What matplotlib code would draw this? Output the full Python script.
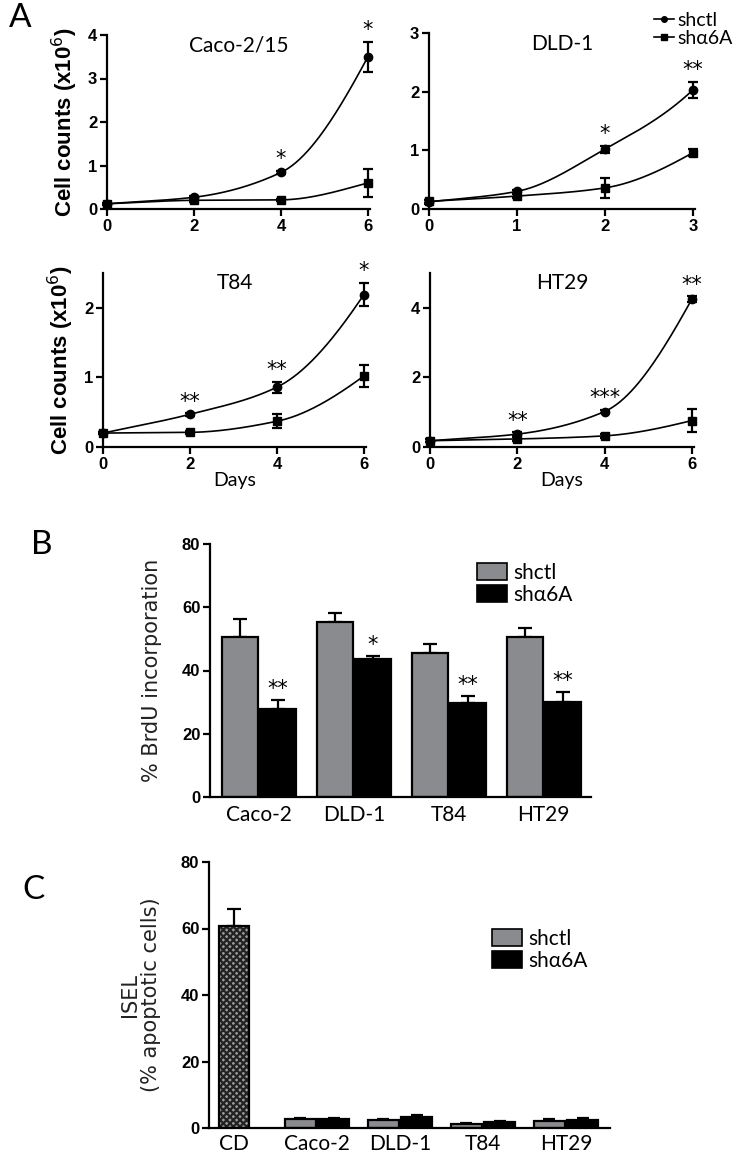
import numpy as np
import matplotlib
matplotlib.use('Agg')
import matplotlib.pyplot as plt
from matplotlib.lines import Line2D
from matplotlib.patches import Patch

# panel A: cell counts (x10^6)
days_caco = [0, 2, 4, 6]
caco_ctl = [0.12, 0.27, 0.84, 3.50]
caco_ctl_err = [0.02, 0.03, 0.04, 0.35]
caco_kd = [0.12, 0.20, 0.21, 0.60]
caco_kd_err = [0.02, 0.03, 0.03, 0.32]
caco_stars = ['', '', '*', '*']

days_dld = [0, 1, 2, 3]
dld_ctl = [0.12, 0.30, 1.02, 2.03]
dld_ctl_err = [0.03, 0.03, 0.06, 0.14]
dld_kd = [0.13, 0.22, 0.36, 0.96]
dld_kd_err = [0.03, 0.03, 0.17, 0.06]
dld_stars = ['', '', '*', '**']

days_t84 = [0, 2, 4, 6]
t84_ctl = [0.20, 0.47, 0.86, 2.19]
t84_ctl_err = [0.02, 0.02, 0.08, 0.17]
t84_kd = [0.20, 0.21, 0.37, 1.02]
t84_kd_err = [0.02, 0.02, 0.10, 0.16]
t84_stars = ['', '**', '**', '*']

days_ht29 = [0, 2, 4, 6]
ht29_ctl = [0.18, 0.37, 1.02, 4.25]
ht29_ctl_err = [0.05, 0.05, 0.05, 0.08]
ht29_kd = [0.18, 0.23, 0.32, 0.76]
ht29_kd_err = [0.05, 0.05, 0.05, 0.32]
ht29_stars = ['', '**', '***', '**']

# panel B: BrdU incorporation (%)
brdu_groups = ['Caco-2', 'DLD-1', 'T84', 'HT29']
brdu_ctl = [50.7, 55.3, 45.6, 50.7]
brdu_ctl_err = [5.6, 3.0, 2.8, 2.6]
brdu_kd = [27.8, 43.7, 29.8, 30.1]
brdu_kd_err = [2.9, 0.9, 2.1, 3.1]
brdu_stars = ['**', '*', '**', '**']

# panel C: ISEL (% apoptotic cells)
isel_groups = ['CD', 'Caco-2', 'DLD-1', 'T84', 'HT29']
cd_value = 60.8
cd_err = 5.2
isel_ctl = [2.6, 2.3, 1.1, 2.2]
isel_ctl_err = [0.5, 0.5, 0.3, 0.5]
isel_kd = [2.6, 3.4, 1.8, 2.3]
isel_kd_err = [0.5, 0.5, 0.4, 0.7]

W, H = 743, 1153
TICKFONT = dict(family=['Liberation Sans Narrow', 'Liberation Sans'], weight='bold', size=12)
SANS = ['Lato', 'DejaVu Sans']
GRAY = '#8a8b8f'


def pchip(x, y, xs):
    # monotone cubic through the measured points, for the smooth curve only
    x = np.asarray(x, float)
    y = np.asarray(y, float)
    h = np.diff(x)
    d = np.diff(y) / h
    m = np.zeros_like(y)
    m[0] = d[0]
    m[-1] = d[-1] * 1.4
    for k in range(1, len(x) - 1):
        if d[k - 1] * d[k] > 0:
            w1 = 2 * h[k] + h[k - 1]
            w2 = h[k] + 2 * h[k - 1]
            m[k] = (w1 + w2) / (w1 / d[k - 1] + w2 / d[k])
    idx = np.clip(np.searchsorted(x, xs) - 1, 0, len(x) - 2)
    t = (xs - x[idx]) / h[idx]
    h00 = 2 * t**3 - 3 * t**2 + 1
    h10 = t**3 - 2 * t**2 + t
    h01 = -2 * t**3 + 3 * t**2
    h11 = t**3 - t**2
    return h00 * y[idx] + h10 * h[idx] * m[idx] + h01 * y[idx + 1] + h11 * h[idx] * m[idx + 1]


def px_axes(fig, x0, x1, y_top, y_bot):
    return fig.add_axes([x0 / W, 1 - y_bot / H, (x1 - x0) / W, (y_bot - y_top) / H])


def style_axes(ax):
    for s in ['top', 'right']:
        ax.spines[s].set_visible(False)
    for s in ['left', 'bottom']:
        ax.spines[s].set_linewidth(1.6)
    ax.tick_params(width=1.6, length=5, direction='out', pad=2)
    for lab in ax.get_xticklabels() + ax.get_yticklabels():
        lab.set_fontproperties(matplotlib.font_manager.FontProperties(**TICKFONT))


def growth_panel(ax, days, ctl, ctl_err, kd, kd_err, stars, title, ylim, yticks):
    xs = np.linspace(days[0], days[-1], 200)
    ax.plot(xs, pchip(days, ctl, xs), color='black', lw=1.2)
    ax.plot(xs, pchip(days, kd, xs), color='black', lw=1.2)
    ax.errorbar(days, ctl, yerr=ctl_err, fmt='o', ms=6, color='black',
                capsize=3.5, elinewidth=1.6, capthick=1.6, clip_on=False, zorder=3)
    ax.errorbar(days, kd, yerr=kd_err, fmt='s', ms=6, color='black',
                capsize=3.5, elinewidth=1.6, capthick=1.6, clip_on=False, zorder=3)
    for d, v, e, s in zip(days, ctl, ctl_err, stars):
        if s:
            ax.annotate(s, (d, v + e), xytext=(0, 1), textcoords='offset points',
                        ha='center', va='bottom', fontsize=15, family='DejaVu Sans',
                        annotation_clip=False)
    ax.set_xlim(days[0], days[-1] * 1.008)
    ax.set_ylim(*ylim)
    ax.set_xticks(days)
    ax.set_yticks(yticks)
    style_axes(ax)
    ax.text(0.5, 0.94, title, transform=ax.transAxes, ha='center', va='center',
            fontsize=15, family=SANS)


fig = plt.figure(figsize=(W / 100, H / 100), dpi=100)

ax1 = px_axes(fig, 107, 370, 35, 209)
growth_panel(ax1, days_caco, caco_ctl, caco_ctl_err, caco_kd, caco_kd_err,
             caco_stars, 'Caco-2/15', (0, 4), [0, 1, 2, 3, 4])
ax2 = px_axes(fig, 429, 695, 33, 209)
growth_panel(ax2, days_dld, dld_ctl, dld_ctl_err, dld_kd, dld_kd_err,
             dld_stars, 'DLD-1', (0, 3), [0, 1, 2, 3])
ax3 = px_axes(fig, 103, 366, 273, 447)
growth_panel(ax3, days_t84, t84_ctl, t84_ctl_err, t84_kd, t84_kd_err,
             t84_stars, 'T84', (0, 2.5), [0, 1, 2])
ax4 = px_axes(fig, 430, 694, 273, 447)
growth_panel(ax4, days_ht29, ht29_ctl, ht29_ctl_err, ht29_kd, ht29_kd_err,
             ht29_stars, 'HT29', (0, 5), [0, 2, 4])
for ax in (ax1, ax3):
    ax.set_ylabel('Cell counts (x10$^{6}$)', fontsize=16, fontweight='bold',
                  family=['Liberation Sans', 'DejaVu Sans'], labelpad=6)
for ax in (ax3, ax4):
    ax.set_xlabel('Days', fontsize=14, family=SANS, labelpad=0)

handles = [Line2D([], [], color='black', marker='o', ms=4, lw=1.2),
           Line2D([], [], color='black', marker='s', ms=4, lw=1.2)]
fig.legend(handles, ['shctl', 'shα6A'], loc='upper right', bbox_to_anchor=(1.01, 1.005),
           frameon=False, handlelength=1.0, handletextpad=0.2, labelspacing=0.05,
           prop=dict(family=SANS, size=14))

# panel B
axb = px_axes(fig, 210, 591, 544, 797)
xb = np.arange(len(brdu_groups))
bw = 0.38
axb.bar(xb - 0.2, brdu_ctl, bw, color=GRAY, edgecolor='black', lw=1.6, zorder=2)
axb.bar(xb + 0.2, brdu_kd, bw, color='black', edgecolor='black', lw=1.6, zorder=2)
axb.errorbar(xb - 0.2, brdu_ctl, yerr=[np.zeros(len(xb)), brdu_ctl_err], fmt='none',
             ecolor='black', elinewidth=1.6, capsize=5, capthick=1.6, zorder=1)
axb.errorbar(xb + 0.2, brdu_kd, yerr=[np.zeros(len(xb)), brdu_kd_err], fmt='none',
             ecolor='black', elinewidth=1.6, capsize=5, capthick=1.6, zorder=1)
for x, v, e, s in zip(xb, brdu_kd, brdu_kd_err, brdu_stars):
    axb.annotate(s, (x + 0.2, v + e), xytext=(0, 1), textcoords='offset points',
                 ha='center', va='bottom', fontsize=15, family='DejaVu Sans')
axb.set_xlim(-0.52, 3.5)
axb.set_ylim(0, 80)
axb.set_yticks([0, 20, 40, 60, 80])
axb.set_xticks(xb)
axb.set_xticklabels(brdu_groups)
style_axes(axb)
axb.tick_params(axis='x', length=0, pad=6)
for lab in axb.get_xticklabels():
    lab.set_fontproperties(matplotlib.font_manager.FontProperties(family=SANS, size=15))
axb.set_ylabel('% BrdU incorporation', fontsize=15, family='DejaVu Sans',
               color='#222222', labelpad=14)
axb.legend([Patch(facecolor=GRAY, edgecolor='black', lw=1.2),
            Patch(facecolor='black', edgecolor='black', lw=1.2)],
           ['shctl', 'shα6A'], loc='upper right', bbox_to_anchor=(1.0, 1.0),
           frameon=False, handlelength=1.4, handleheight=0.9, handletextpad=0.3,
           labelspacing=0.1, prop=dict(family=SANS, size=15))

# panel C
axc = px_axes(fig, 209, 610, 862, 1128)
xc = np.arange(1, len(isel_groups))
cw = 0.37
plt.rcParams['hatch.linewidth'] = 1.6
axc.bar([0], [cd_value], cw, color='#9a9a9a', edgecolor='#222222', hatch='xxxxx',
        lw=0, zorder=2)
axc.bar([0], [cd_value], cw, color='none', edgecolor='black', lw=1.6, zorder=3)
axc.errorbar([0], [cd_value], yerr=[[0], [cd_err]], fmt='none', ecolor='black',
             elinewidth=1.6, capsize=5, capthick=1.6, zorder=1)
axc.bar(xc - 0.2, isel_ctl, cw, color=GRAY, edgecolor='black', lw=1.6, zorder=2)
axc.bar(xc + 0.2, isel_kd, cw, color='black', edgecolor='black', lw=1.6, zorder=2)
axc.errorbar(xc - 0.2, isel_ctl, yerr=[np.zeros(len(xc)), isel_ctl_err], fmt='none',
             ecolor='black', elinewidth=1.6, capsize=4, capthick=1.6, zorder=1)
axc.errorbar(xc + 0.2, isel_kd, yerr=[np.zeros(len(xc)), isel_kd_err], fmt='none',
             ecolor='black', elinewidth=1.6, capsize=4, capthick=1.6, zorder=1)
axc.set_xlim(-0.3, 4.53)
axc.set_ylim(0, 80)
axc.set_yticks([0, 20, 40, 60, 80])
axc.set_xticks(np.arange(len(isel_groups)))
axc.set_xticklabels(isel_groups)
style_axes(axc)
axc.tick_params(axis='x', length=0, pad=4)
for lab in axc.get_xticklabels():
    lab.set_fontproperties(matplotlib.font_manager.FontProperties(family=SANS, size=15))
axc.set_ylabel('ISEL\n(% apoptotic cells)', fontsize=15, family='DejaVu Sans',
               color='#222222', labelpad=14, linespacing=1.1)
axc.legend([Patch(facecolor=GRAY, edgecolor='black', lw=1.2),
            Patch(facecolor='black', edgecolor='black', lw=1.2)],
           ['shctl', 'shα6A'], loc='upper left', bbox_to_anchor=(0.66, 0.82),
           frameon=False, handlelength=1.4, handleheight=0.9, handletextpad=0.3,
           labelspacing=0.1, prop=dict(family=SANS, size=15))

# panel letters
fig.text(20 / W, 1 - 18 / H, 'A', fontsize=24, family=SANS, ha='center', va='center')
fig.text(42 / W, 1 - 545 / H, 'B', fontsize=24, family=SANS, ha='center', va='center')
fig.text(34 / W, 1 - 890 / H, 'C', fontsize=24, family=SANS, ha='center', va='center')

fig.savefig('out.png', dpi=100)
